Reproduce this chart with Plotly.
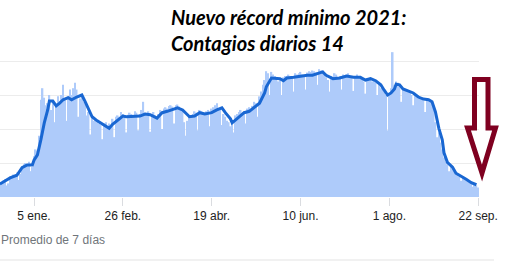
import pandas as pd
import plotly.graph_objects as go

# ---------------- data ----------------
bar_start = "2020-12-16"
daily_cases = [
    18, 22, 24, 26, 17, 20, 30,
    31, 33, 30, 36, 25, 34, 45,
    48, 50, 46, 52, 38, 44, 60,
    70, 68, 90, 143, 160, 146, 135,
    138, 150, 128, 142, 110, 135, 148,
    140, 150, 165, 142, 112, 148, 158,
    150, 160, 168, 158, 118, 145, 150,
    140, 138, 120, 125, 92, 118, 112,
    115, 110, 108, 106, 85, 108, 110,
    102, 108, 104, 115, 88, 118, 120,
    118, 125, 122, 119, 95, 121, 124,
    122, 118, 126, 124, 98, 122, 128,
    140, 124, 122, 126, 96, 121, 125,
    120, 118, 122, 128, 100, 130, 132,
    130, 134, 135, 133, 108, 135, 136,
    133, 130, 128, 110, 90, 112, 120,
    118, 122, 126, 124, 98, 128, 126,
    124, 122, 126, 128, 104, 130, 132,
    135, 138, 130, 128, 106, 122, 118,
    112, 110, 104, 112, 95, 120, 122,
    125, 128, 122, 126, 108, 130, 132,
    130, 134, 140, 138, 118, 148, 155,
    165, 172, 185, 182, 150, 184, 180,
    178, 176, 170, 174, 150, 176, 178,
    178, 180, 176, 178, 155, 182, 180,
    182, 184, 180, 178, 158, 183, 185,
    184, 186, 185, 183, 165, 188, 186,
    186, 180, 176, 172, 155, 178, 175,
    182, 180, 176, 178, 158, 180, 178,
    180, 182, 178, 177, 156, 178, 180,
    176, 178, 175, 170, 152, 174, 172,
    172, 170, 172, 168, 150, 165, 160,
    160, 155, 150, 98, 150, 160, 213,
    165, 170, 168, 165, 140, 160, 158,
    158, 156, 155, 150, 135, 152, 150,
    148, 146, 144, 142, 125, 145, 142,
    140, 138, 128, 110, 88, 95, 80,
    70, 58, 52, 48, 38, 46, 44,
    40, 36, 34, 30, 24, 30, 28,
    26, 24, 22, 20, 15, 18, 17,
    14,
]

avg_dates = [
    "2020-12-16", "2020-12-22", "2020-12-26", "2020-12-29", "2021-01-01", "2021-01-04",
    "2021-01-05", "2021-01-07", "2021-01-09", "2021-01-11", "2021-01-13", "2021-01-14",
    "2021-01-16", "2021-01-18", "2021-01-20", "2021-01-22", "2021-01-25", "2021-01-27",
    "2021-01-30", "2021-02-02", "2021-02-04", "2021-02-06", "2021-02-08", "2021-02-11",
    "2021-02-14", "2021-02-18", "2021-02-20", "2021-02-23", "2021-02-26", "2021-02-28",
    "2021-03-02", "2021-03-05", "2021-03-08", "2021-03-11", "2021-03-14", "2021-03-18",
    "2021-03-21", "2021-03-24", "2021-03-27", "2021-03-30", "2021-04-02", "2021-04-06",
    "2021-04-09", "2021-04-12", "2021-04-15", "2021-04-19", "2021-04-22", "2021-04-25",
    "2021-04-27", "2021-04-30", "2021-05-01", "2021-05-04", "2021-05-08", "2021-05-11",
    "2021-05-14", "2021-05-17", "2021-05-20", "2021-05-21", "2021-05-24", "2021-05-27",
    "2021-05-29", "2021-05-31", "2021-06-02", "2021-06-06", "2021-06-10", "2021-06-14",
    "2021-06-17", "2021-06-20", "2021-06-23", "2021-06-25", "2021-06-29", "2021-07-03",
    "2021-07-07", "2021-07-11", "2021-07-15", "2021-07-18", "2021-07-21", "2021-07-24",
    "2021-07-27", "2021-07-29", "2021-07-31", "2021-08-02", "2021-08-04", "2021-08-05",
    "2021-08-07", "2021-08-09", "2021-08-12", "2021-08-15", "2021-08-18", "2021-08-21",
    "2021-08-24", "2021-08-26", "2021-08-28", "2021-08-30", "2021-09-01", "2021-09-02",
    "2021-09-04", "2021-09-07", "2021-09-09", "2021-09-12", "2021-09-15", "2021-09-18",
    "2021-09-21",
]
avg_values = [
    19, 28, 32, 43, 47, 47,
    54, 62, 84, 109, 128, 141,
    141, 134, 138, 143, 146, 143,
    147, 150, 140, 128, 118, 112,
    107, 101, 107, 113, 119, 118,
    118, 118, 119, 122, 121, 116,
    124, 126, 129, 131, 128, 118,
    119, 124, 122, 124, 128, 131,
    124, 115, 109, 116, 124, 126,
    132, 138, 153, 162, 175, 175,
    174, 171, 175, 176, 178, 179,
    179, 182, 184, 179, 174, 175,
    178, 176, 176, 172, 174, 171,
    165, 157, 150, 153, 159, 166,
    165, 159, 156, 153, 147, 144,
    143, 140, 125, 101, 84, 65,
    51, 44, 35, 31, 26, 21,
    18,
]

tick_dates = ["2021-01-05", "2021-02-26", "2021-04-19", "2021-06-10", "2021-08-01", "2021-09-22"]
tick_labels = ["5 ene.", "26 feb.", "19 abr.", "10 jun.", "1 ago.", "22 sep."]

title_line1 = "Nuevo récord mínimo 2021:"
title_line2 = "Contagios diarios 14"
legend_text = "Promedio de 7 días"

# ---------------- figure ----------------
bar_dates = pd.date_range(bar_start, periods=len(daily_cases), freq="D")

W, H = 507, 266
PL, PR, PT, PB = 0, 28, 27, 69
plot_w = W - PL - PR
plot_h = H - PT - PB


def px_x(p):
    return (p - PL) / plot_w


def px_y(p):
    return (H - PB - p) / plot_h


fig = go.Figure()
fig.add_trace(go.Bar(
    x=bar_dates, y=daily_cases,
    marker=dict(color="#aecbfa", line=dict(width=0)),
    hoverinfo="skip",
))
fig.add_trace(go.Scatter(
    x=avg_dates, y=avg_values, mode="lines",
    line=dict(color="#1967d2", width=3),
    hoverinfo="skip",
))

fig.update_layout(
    width=W, height=H,
    margin=dict(l=PL, r=PR, t=PT, b=PB, pad=0),
    paper_bgcolor="white", plot_bgcolor="white",
    showlegend=False, bargap=0.1,
    font=dict(family="Arial, Liberation Sans, sans-serif", size=12, color="#222222"),
)
fig.update_xaxes(
    range=["2020-12-16 02:00", "2021-09-22 12:00"],
    tickvals=tick_dates, ticktext=tick_labels,
    ticks="outside", ticklen=8, tickwidth=1, tickcolor="#dadce0",
    showgrid=False, showline=False, zeroline=False,
    tickfont=dict(size=12, color="#222222"),
)
fig.update_yaxes(
    range=[0, 250], dtick=50, showticklabels=False,
    showgrid=True, gridcolor="#ececec", gridwidth=1,
    zeroline=False, showline=False,
)

# title text overlay
for txt, yc in [(title_line1, 17), (title_line2, 43)]:
    fig.add_annotation(
        text=f"<b><i>{txt}</i></b>", xref="paper", yref="paper",
        x=px_x(169), y=px_y(yc), xanchor="left", yanchor="middle",
        showarrow=False, font=dict(family="Lato", size=20, color="black"),
    )

# legend caption
fig.add_annotation(
    text=legend_text, xref="paper", yref="paper",
    x=px_x(-1), y=px_y(240), xanchor="left", yanchor="middle",
    showarrow=False, font=dict(family="Arial, Liberation Sans", size=12, color="#70757a"),
)

# bottom separator line
fig.add_shape(type="line", xref="paper", yref="paper",
              x0=px_x(0), x1=px_x(494), y0=px_y(260), y1=px_y(260),
              line=dict(color="#e3e3e3", width=1))

# down arrow outline
pts = [(474.5, 79.5), (488, 79.5), (488, 128), (495.5, 128), (482, 173),
       (467.5, 128), (474.5, 128)]
path = "M " + " L ".join(f"{px_x(a):.5f},{px_y(b):.5f}" for a, b in pts) + " Z"
fig.add_shape(type="path", xref="paper", yref="paper", path=path,
              line=dict(color="#7f0020", width=5), fillcolor="rgba(0,0,0,0)")

fig.write_html("out.html")
